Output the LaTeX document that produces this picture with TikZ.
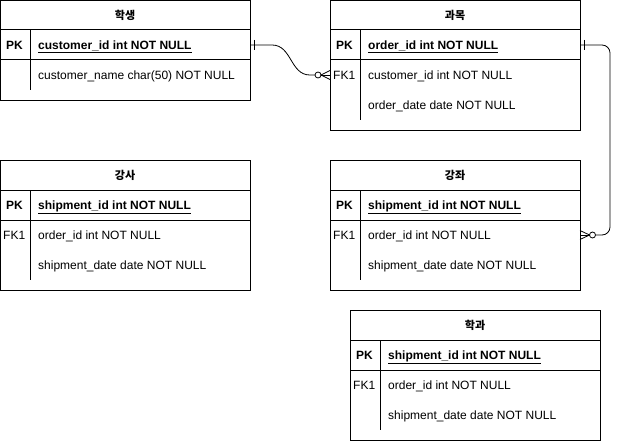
\documentclass[tikz,border=0pt]{standalone}
\usepackage{fontspec}
\setmainfont{Liberation Sans}
\newfontfamily\kofont{Noto Sans CJK KR}
\begin{document}
\begin{tikzpicture}[x=1pt,y=-1pt,
  tblbox/.style={draw=black,line width=1pt,fill=white,minimum width=250pt,inner sep=0pt,anchor=north west},
  rule/.style={line width=1pt},
  conn/.style={line width=0.8pt},
  title/.style={font=\kofont\fontsize{11}{13}\selectfont\bfseries,anchor=center},
  key/.style={font=\fontsize{12}{14}\selectfont,anchor=base west,inner sep=0pt},
  keyb/.style={font=\fontsize{12}{14}\selectfont\bfseries,anchor=base west,inner sep=0pt},
  field/.style={font=\fontsize{12}{14}\selectfont,anchor=base west,inner sep=0pt},
  fieldpk/.style={font=\fontsize{12}{14}\selectfont\bfseries,anchor=base west,inner sep=0pt}]
\useasboundingbox (0,0) rectangle (620,441);
% generic table macro: #1 name, #2 x, #3 y, #4 height, #5 title, #6 pk field, #7 fk label, #8 row2, #9 row3
\newcommand\erTbl[9]{%
  \node[tblbox,minimum height=#4pt] (#1) at (#2,#3) {};
  \draw[rule] (#2,#3+30) -- (#2+250,#3+30);
  \draw[rule] (#2,#3+60) -- (#2+250,#3+60);
  \draw[rule] (#2+30,#3+30) -- (#2+30,#3+#4-10);
  \node[title] (#1t) at (#2+125,#3+15) {#5};
  \node[keyb] (#1pkl) at (#2+6,#3+49.5) {PK};
  \node[fieldpk] (#1pk) at (#2+38,#3+49.5) {\underline{#6}};
  \node[key] (#1fkl) at (#2+3,#3+79.5) {#7};
  \node[field] (#1r2) at (#2+38,#3+79.5) {#8};
  \node[field] (#1r3) at (#2+38,#3+109.5) {#9};
}
\erTbl{ta}{0}{0}{100}{학생}{customer\_id int NOT NULL}{}{customer\_name char(50) NOT NULL}{}
\erTbl{tb}{330}{0}{130}{과목}{order\_id int NOT NULL}{FK1}{customer\_id int NOT NULL}{order\_date date NOT NULL}
\erTbl{tc}{0}{160}{130}{강사}{shipment\_id int NOT NULL}{FK1}{order\_id int NOT NULL}{shipment\_date date NOT NULL}
\erTbl{td}{330}{160}{130}{강좌}{shipment\_id int NOT NULL}{FK1}{order\_id int NOT NULL}{shipment\_date date NOT NULL}
\erTbl{te}{350}{310}{130}{학과}{shipment\_id int NOT NULL}{FK1}{order\_id int NOT NULL}{shipment\_date date NOT NULL}
% connector anchors
\coordinate (aS) at (250,45);
\coordinate (bE) at (330,75);
\coordinate (bS) at (580,45);
\coordinate (dE) at (580,235);
% connector 1: one mandatory -> zero or many
\draw[conn] (aS) -- (272,45) .. controls (292,45) and (290,75) .. (310,75) -- (315,75);
\draw[conn] (254,40) -- (254,50);
\draw[conn] (318,75) circle (3);
\draw[conn] (321,75) -- (bE);
\draw[conn] (321,75) -- (330,70.5);
\draw[conn] (321,75) -- (330,79.5);
% connector 2
\draw[conn,rounded corners=8pt] (bS) -- (610,45) -- (610,235) -- (595.5,235);
\draw[conn] (584,40) -- (584,50);
\draw[conn] (592.5,235) circle (3);
\draw[conn] (589.5,235) -- (dE);
\draw[conn] (589.5,235) -- (580,230.5);
\draw[conn] (589.5,235) -- (580,239.5);
\end{tikzpicture}
\end{document}
